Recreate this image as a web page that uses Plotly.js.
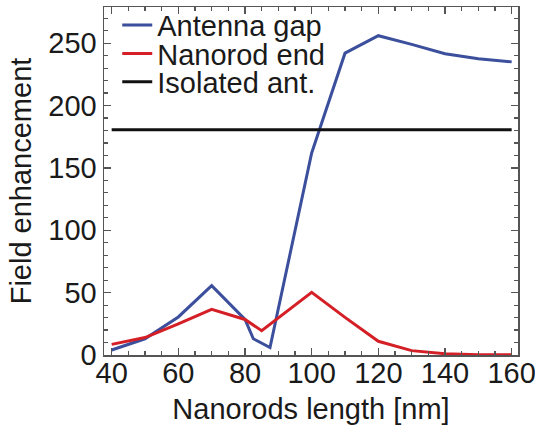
<!DOCTYPE html>
<html>
<head>
<meta charset="utf-8">
<script src="https://cdn.plot.ly/plotly-3.0.1.min.js"></script>
<style>html,body{margin:0;padding:0;background:#fff;}#chart{width:535px;height:428px;}</style>
</head>
<body>
<div id="chart"></div>
<script>
// Antenna gap (blue)
const gapX = [40, 50, 60, 70, 80, 82.5, 87.5, 100, 110, 120, 130, 140, 150, 160];
const gapY = [4, 13, 30.5, 55.6, 28.5, 13, 6, 162, 242, 256, 249, 241.5, 237.5, 235];
// Nanorod end (red)
const endX = [40, 50, 60, 70, 80, 85, 100, 110, 120, 130, 140, 150, 160];
const endY = [8.5, 14, 25, 36.6, 28.5, 19.5, 50.3, 30.2, 11, 3.5, 1, 0.3, 0.3];
// Isolated antenna (black reference)
const isoX = [40, 160];
const isoY = [180.5, 180.5];

const names = ['Antenna gap', 'Nanorod end', 'Isolated ant.'];
const xTitle = 'Nanorods length [nm]';
const yTitle = 'Field enhancement';

const FONT = '"Liberation Sans", Arial, sans-serif';

const traces = [
  {x: gapX, y: gapY, name: names[0], mode: 'lines', legend: 'legend',
   line: {color: '#3b4f9c', width: 3}},
  {x: endX, y: endY, name: names[1], mode: 'lines', legend: 'legend2',
   line: {color: '#d41f26', width: 3}},
  {x: isoX, y: isoY, name: names[2], mode: 'lines', legend: 'legend3',
   line: {color: '#111111', width: 3}}
];

function leg(y) {
  return {x: 0.032, y: y, xanchor: 'left', yanchor: 'middle',
    bgcolor: 'rgba(0,0,0,0)', borderwidth: 0,
    font: {family: FONT, size: 29, color: '#1a1a1a'}};
}

const axisCommon = {
  showline: true, mirror: 'ticks', linecolor: '#555', linewidth: 1.5,
  ticks: 'inside', ticklen: 7, tickwidth: 1.2, tickcolor: '#555',
  showgrid: false, zeroline: false, ticklabeloverflow: 'allow',
  tickfont: {family: FONT, size: 29, color: '#1a1a1a'}
};

const layout = {
  width: 535, height: 428,
  margin: {l: 104, r: 17, t: 7, b: 73, autoexpand: false},
  paper_bgcolor: '#fff', plot_bgcolor: '#fff',
  showlegend: true,
  legend: leg(0.948), legend2: leg(0.866), legend3: leg(0.7845),
  xaxis: Object.assign({}, axisCommon, {
    range: [37.7, 161.9], tick0: 40, dtick: 20,
    ticklabelstandoff: -8,
    minor: {dtick: 5, ticks: 'inside', ticklen: 4, tickcolor: '#555'},
    title: {text: xTitle, font: {family: FONT, size: 29, color: '#1a1a1a'}, standoff: 10}
  }),
  yaxis: Object.assign({}, axisCommon, {
    range: [0, 279], tick0: 0, dtick: 50,
    minor: {dtick: 10, ticks: 'inside', ticklen: 4, tickcolor: '#555'},
    title: {text: yTitle, font: {family: FONT, size: 29, color: '#1a1a1a'}, standoff: 8}
  })
};

Plotly.newPlot('chart', traces, layout, {displayModeBar: false, staticPlot: true});
</script>
</body>
</html>
